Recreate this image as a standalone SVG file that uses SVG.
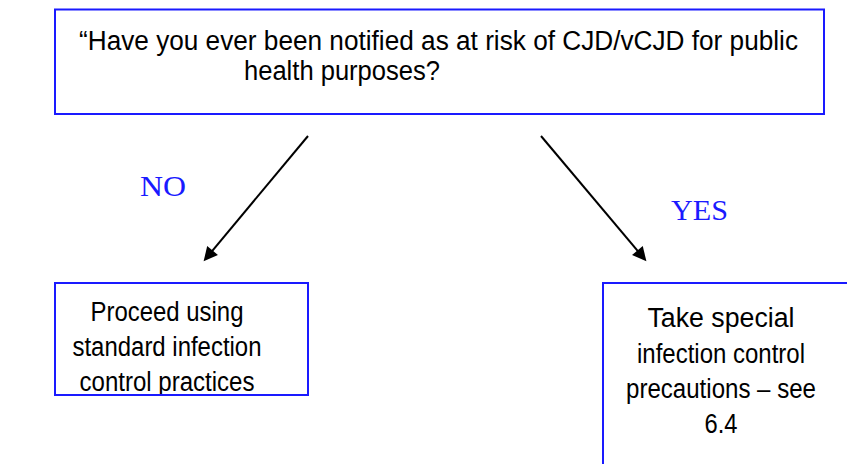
<svg xmlns="http://www.w3.org/2000/svg" width="847" height="464" viewBox="0 0 847 464">
<style>
.box{fill:#fff;stroke:#1a1aff;stroke-width:2}
.edge{fill:none;stroke:#1a1aff;stroke-width:2}
.t{font-family:"Liberation Sans",Arial,sans-serif;font-size:27px;fill:#000}
.c{text-anchor:middle}
.lbl{font-family:"Liberation Serif","Times New Roman",serif;font-size:30px;fill:#1a1aff}
.arrow{stroke:#000;stroke-width:2;fill:none;marker-end:url(#ah)}
</style>
<defs>
<marker id="ah" viewBox="0 0 10 10" refX="5" refY="5" markerWidth="16" markerHeight="14" markerUnits="userSpaceOnUse" orient="auto">
<path d="M0,0 L10,5 L0,10 Z" fill="#000"/>
</marker>
<clipPath id="clipL"><rect x="56" y="284" width="251" height="110"/></clipPath>
</defs>
<rect width="847" height="464" fill="#fff"/>
<g id="question">
<rect class="box" x="55" y="9.5" width="769" height="104.5"/>
<text class="t" x="79" y="50" textLength="719" lengthAdjust="spacingAndGlyphs">“Have you ever been notified as at risk of CJD/vCJD for public</text>
<text class="t" x="244" y="80" textLength="196" lengthAdjust="spacingAndGlyphs">health purposes?</text>
</g>
<g id="connectors">
<line class="arrow" x1="308" y1="136" x2="208.1" y2="255.9"/>
<line class="arrow" x1="541" y1="136" x2="641.9" y2="255.9"/>
<text class="lbl" x="140" y="196" textLength="46" lengthAdjust="spacingAndGlyphs">NO</text>
<text class="lbl" x="671" y="220" textLength="57" lengthAdjust="spacingAndGlyphs">YES</text>
</g>
<g id="no-branch">
<rect class="box" x="55" y="283" width="253" height="112"/>
<g clip-path="url(#clipL)">
<text class="t c" x="167" y="321" textLength="153" lengthAdjust="spacingAndGlyphs">Proceed using</text>
<text class="t c" x="167" y="356" textLength="189" lengthAdjust="spacingAndGlyphs">standard infection</text>
<text class="t c" x="167" y="391" textLength="175" lengthAdjust="spacingAndGlyphs">control practices</text>
</g>
</g>
<g id="yes-branch">
<path class="edge" d="M603,465 V283 H848"/>
<text class="t c" x="721" y="327" textLength="147" lengthAdjust="spacingAndGlyphs">Take special</text>
<text class="t c" x="721" y="363" textLength="168" lengthAdjust="spacingAndGlyphs">infection control</text>
<text class="t c" x="721" y="398" textLength="190" lengthAdjust="spacingAndGlyphs">precautions – see</text>
<text class="t c" x="721" y="433" textLength="33" lengthAdjust="spacingAndGlyphs">6.4</text>
</g>
</svg>
